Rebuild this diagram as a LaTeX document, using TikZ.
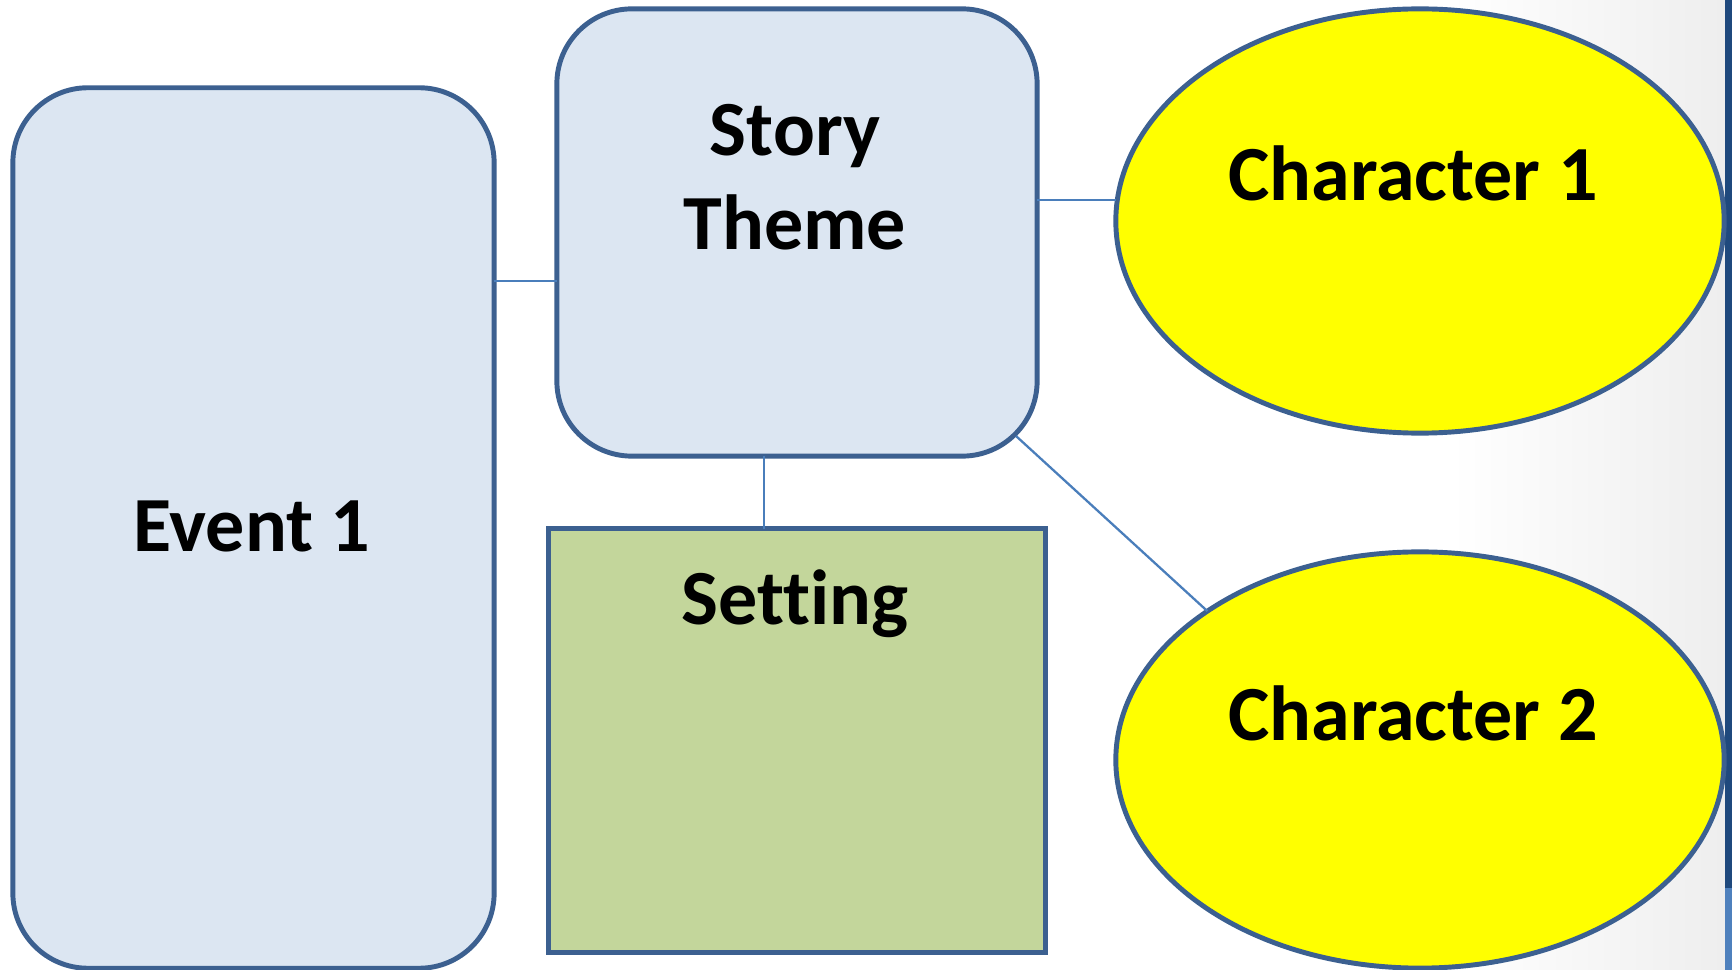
\documentclass[tikz,border=0pt]{standalone}
\usepackage{fontspec}
\setmainfont{Carlito}[Ligatures=NoCommon]
\usetikzlibrary{shapes.geometric,calc}
\definecolor{boxfill}{HTML}{DCE6F2}
\definecolor{boxline}{HTML}{3C6090}
\definecolor{setfill}{HTML}{C3D69B}
\definecolor{charfill}{HTML}{FFFF00}
\definecolor{conline}{HTML}{4A7EBB}
\definecolor{bardark}{HTML}{1F497D}
\definecolor{barlight}{HTML}{4F81BD}
\definecolor{bggrey}{HTML}{EEEEEE}
\tikzset{
  shapebox/.style={draw=boxline, line width=1.4pt, inner sep=0pt, outer sep=0pt},
  roundbox/.style={shapebox, rectangle, fill=boxfill, rounded corners=0.75cm},
  setbox/.style={shapebox, rectangle, fill=setfill},
  charell/.style={shapebox, ellipse, fill=charfill},
  conn/.style={draw=conline, line width=0.65pt},
  lbl/.style={font=\fontsize{22.2}{27}\selectfont\bfseries, inner sep=0pt, align=center}
}
\begin{document}
\begin{tikzpicture}[x=0.01cm, y=-0.01cm]
\useasboundingbox (0,0) rectangle (1732,970);
% background
\fill[white] (0,0) rectangle (1732,970);
\shade[left color=white, right color=bggrey] (1450,0) rectangle (1725,970);
\fill[bardark] (1725,0) rectangle (1732,888);
\fill[barlight] (1725,888) rectangle (1732,970);
% shapes
\node[roundbox, minimum width=4.81cm, minimum height=8.80cm] (event) at (253.5,528) {};
\node[roundbox, minimum width=4.80cm, minimum height=4.47cm] (theme) at (797,232.5) {};
\node[setbox, minimum width=4.96cm, minimum height=4.23cm] (setting) at (797,740.5) {};
\node[charell, minimum width=6.08cm, minimum height=4.24cm] (char1) at (1420,221) {};
\node[charell, minimum width=6.08cm, minimum height=4.16cm] (char2) at (1420,760) {};
% connectors
\draw[conn] (event.east |- 0,281) -- (theme.west |- 0,281);
\draw[conn] (theme.east |- 0,200) -- (char1.west |- 0,200);
\draw[conn] (theme.south -| 764,0) -- (setting.north -| 764,0);
\draw[conn] ($(theme.south east)+(-21,-20)$) -- (char2.145);
% labels
\node[lbl, anchor=base] (themetxt) at (795,250) {Story\\Theme};
\node[lbl, anchor=base] (eventtxt) at (252,552) {Event 1};
\node[lbl, anchor=base] (settxt) at (795,624) {Setting};
\node[lbl, anchor=base] (c1txt) at (1413,201) {Character 1};
\node[lbl, anchor=base] (c2txt) at (1413,740) {Character 2};
\end{tikzpicture}
\end{document}
